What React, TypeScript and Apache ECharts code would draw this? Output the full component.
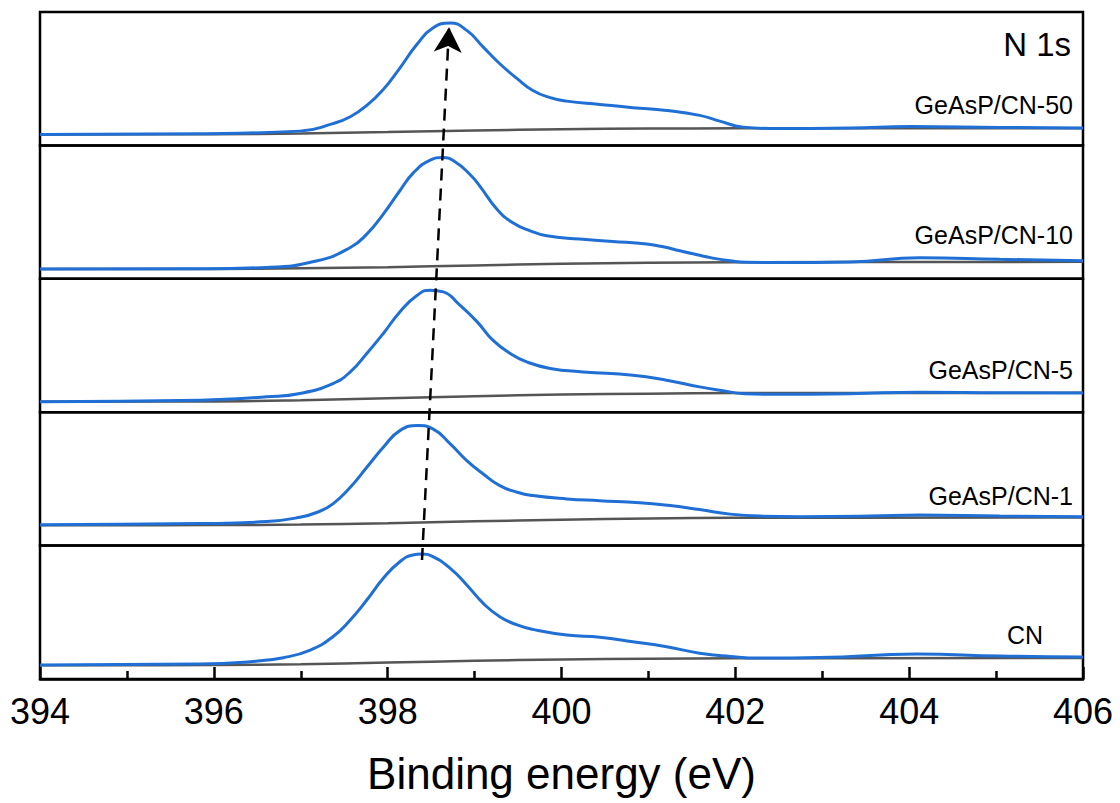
import React, { useEffect, useRef } from 'react';
import * as echarts from 'echarts';

// Binding-energy axis
const xMin = 394;
const xMax = 406;
const xStep = 2;

// Sample names, top panel first
const sampleNames = ['GeAsP/CN-50', 'GeAsP/CN-10', 'GeAsP/CN-5', 'GeAsP/CN-1', 'CN'];

// N 1s spectra (normalised intensity, a.u.)
const energy50 = [394.0, 395.84, 396.99, 397.37, 397.57, 397.76, 397.95, 398.14, 398.34, 398.52, 398.72, 398.91, 399.1, 399.29, 399.49, 399.67, 399.87, 400.06, 400.44, 400.82, 401.21, 401.59, 401.82, 402.09, 402.4, 403.32, 404.02, 405.04, 406.0];
const counts50 = [8.2, 8.8, 10.7, 16.3, 21.5, 30, 42, 58, 76, 88, 91.7, 86.2, 73.7, 61.2, 50, 41.2, 35.8, 33.2, 30.7, 28.3, 26.2, 22.5, 18.2, 13.7, 12.7, 13.1, 14.2, 13.5, 13.1];

const energy10 = [394.0, 395.84, 396.61, 397.19, 397.57, 397.76, 397.95, 398.14, 398.29, 398.49, 398.63, 398.77, 398.95, 399.06, 399.26, 399.44, 399.64, 399.83, 400.21, 400.59, 400.98, 401.17, 401.36, 401.56, 401.74, 401.94, 402.13, 402.51, 403.32, 404.12, 405.04, 406.0];
const counts10 = [7.3, 7.5, 8.5, 13.5, 23.5, 33.5, 48.5, 66, 79, 89, 90.9, 88, 78, 69.5, 52, 42, 36, 32.2, 29.8, 28, 26, 24, 21, 18, 15.5, 13.5, 12.4, 12.2, 12.6, 15.7, 14.6, 13.5];

const energy5 = [394.0, 395.84, 396.61, 396.99, 397.37, 397.57, 397.76, 397.95, 398.14, 398.34, 398.49, 398.64, 398.83, 399.03, 399.21, 399.41, 399.6, 399.87, 400.25, 400.82, 401.21, 401.59, 401.82, 402.11, 402.4, 403.32, 404.12, 405.04, 406.0];
const counts5 = [7.9, 9, 11.5, 14, 21.5, 30.2, 44, 59, 75.2, 87.7, 91.5, 90.2, 80.2, 67.7, 54, 44, 37.7, 32.8, 30.2, 27.7, 24, 19, 16.5, 13.9, 13.5, 13.9, 15, 14.6, 14.4];

const energy1 = [394.0, 395.84, 396.61, 396.99, 397.19, 397.37, 397.57, 397.76, 397.95, 398.14, 398.35, 398.52, 398.72, 398.91, 399.1, 399.29, 399.49, 399.67, 400.06, 400.44, 400.9, 401.25, 401.59, 401.94, 402.28, 402.74, 403.55, 404.12, 405.04, 406.0];
const counts1 = [15.7, 16.5, 18, 21.2, 25, 31.3, 43.7, 58.7, 73.7, 86.2, 90, 87.5, 76.2, 63.7, 53.7, 45, 40, 37.5, 35, 33.7, 32.2, 30, 27, 23.6, 22.1, 21.7, 22.1, 22.9, 22.1, 21.7];

const energyCN = [394.0, 395.84, 396.42, 396.8, 397.11, 397.37, 397.57, 397.76, 397.95, 398.14, 398.29, 398.39, 398.52, 398.72, 398.91, 399.1, 399.29, 399.49, 399.67, 400.06, 400.44, 400.82, 401.21, 401.59, 401.94, 402.28, 402.97, 404.09, 405.04, 406.0];
const countsCN = [10.5, 11.2, 13, 16, 21.7, 31.7, 44.2, 59.2, 75.5, 87.9, 93, 93.7, 91.7, 83, 70.5, 56.7, 46.7, 40.5, 37.2, 33, 31.3, 28, 24.2, 19.3, 16.9, 15.7, 16.1, 18.7, 17.2, 16.5];

// Shirley backgrounds
const bgEnergy = [394, 396, 397, 398, 399, 400, 401, 402, 406];
const bg50 = [8.2, 8.4, 9.0, 10.0, 11.2, 12.1, 12.6, 12.8, 12.8];
const bg10 = [7.3, 7.4, 7.9, 8.7, 10.0, 11.2, 12.0, 12.4, 12.7];
const bg5 = [7.9, 8.1, 9.0, 10.5, 12.0, 13.2, 13.9, 14.3, 14.5];
const bg1 = [15.3, 15.4, 15.8, 16.8, 18.2, 19.4, 20.3, 20.8, 21.0];
const bgCN = [10.3, 10.5, 11.0, 12.3, 13.6, 14.6, 15.2, 15.5, 15.7];

// Peak-shift guide: from the CN maximum up to the top panel's maximum
const shiftStart = [398.395, 89.2];
const shiftEnd = [398.706, 88.5];

const Y_MAX = 100;

const spectra = [
  { e: energy50, c: counts50, bg: bg50 },
  { e: energy10, c: counts10, bg: bg10 },
  { e: energy5, c: counts5, bg: bg5 },
  { e: energy1, c: counts1, bg: bg1 },
  { e: energyCN, c: countsCN, bg: bgCN },
];

const W = 1120;
const H = 803;
const TOP = 12;
const LEFT = 40;
const RIGHT = 37;
const PANEL_H = 133.4;
const FONT = '"Liberation Sans", Arial, sans-serif';
const BLUE = '#1f6fd5';
const GREY = '#555555';

const zip = (xs: number[], ys: number[]) => xs.map((x, k) => [x, ys[k]]);

// label placement inside each panel: [right edge x, offset above panel bottom]
const labelPos: [number, number][] = [
  [1073, 40],
  [1073, 44],
  [1073, 42],
  [1073, 50],
  [1043, 44],
];

export default function App() {
  const ref = useRef<HTMLDivElement>(null);

  useEffect(() => {
    if (!ref.current) return;
    const chart = echarts.init(ref.current, null, { renderer: 'svg' });
    const n = spectra.length;
    const last = n - 1;

    const grid = spectra.map((_, k) => ({
      left: LEFT,
      right: RIGHT,
      top: TOP + k * PANEL_H,
      height: PANEL_H,
      show: true,
      borderColor: '#000',
      borderWidth: 2.5,
      backgroundColor: 'transparent',
      outerBoundsMode: 'none',
    }));

    const xAxis = spectra.map((_, k) => {
      const bottom = k === last;
      return {
        type: 'value',
        gridIndex: k,
        min: xMin,
        max: xMax,
        interval: xStep,
        show: bottom,
        axisLine: { show: bottom, onZero: false, lineStyle: { color: '#000', width: 2.5 } },
        axisTick: { show: bottom, inside: true, length: 12, lineStyle: { color: '#000', width: 2.5 } },
        minorTick: { show: bottom, splitNumber: 2, length: 8, lineStyle: { color: '#000', width: 2.5 } },
        axisLabel: { show: bottom, fontSize: 36, color: '#000', margin: 14, fontFamily: FONT },
        splitLine: { show: false },
        name: bottom ? 'Binding energy (eV)' : '',
        nameLocation: 'middle',
        nameGap: 72,
        nameTextStyle: { fontSize: 44, color: '#000', fontFamily: FONT },
      };
    });

    const yAxis = spectra.map((_, k) => ({
      type: 'value',
      gridIndex: k,
      min: 0,
      max: Y_MAX,
      show: false,
    }));

    const series: any[] = [];
    spectra.forEach((s, k) => {
      series.push({
        type: 'line',
        xAxisIndex: k,
        yAxisIndex: k,
        data: zip(bgEnergy, s.bg),
        symbol: 'none',
        smooth: 0.4,
        silent: true,
        lineStyle: { color: GREY, width: 2.5 },
        z: 2,
      });
      series.push({
        type: 'line',
        name: sampleNames[k],
        xAxisIndex: k,
        yAxisIndex: k,
        data: zip(s.e, s.c),
        symbol: 'none',
        smooth: 0.5,
        silent: true,
        lineStyle: { color: BLUE, width: 3 },
        z: 3,
      });
    });

    // dashed arrow tracking the main N 1s peak across all panels
    series.push({
      type: 'lines',
      coordinateSystem: 'cartesian2d',
      xAxisIndex: last,
      yAxisIndex: last,
      clip: false,
      silent: true,
      symbol: ['none', 'arrow'],
      symbolSize: [0, [21, 25]],
      lineStyle: { color: '#000', width: 2.5, type: [12, 8], opacity: 1, curveness: 0 },
      data: [{ coords: [shiftStart, [shiftEnd[0], shiftEnd[1] + last * Y_MAX]] }],
      z: 5,
    });

    const graphic: any[] = sampleNames.map((name, k) => ({
      type: 'text',
      x: labelPos[k][0],
      y: TOP + (k + 1) * PANEL_H - labelPos[k][1],
      silent: true,
      style: {
        text: name,
        fill: '#000',
        font: `25px ${FONT}`,
        align: 'right',
        verticalAlign: 'middle',
      },
    }));
    graphic.push({
      type: 'text',
      x: 1071,
      y: 44,
      silent: true,
      style: {
        text: 'N 1s',
        fill: '#000',
        font: `33px ${FONT}`,
        align: 'right',
        verticalAlign: 'middle',
      },
    });

    chart.setOption({
      animation: false,
      backgroundColor: '#fff',
      textStyle: { fontFamily: FONT },
      grid,
      xAxis,
      yAxis,
      series,
      graphic,
    });

    return () => chart.dispose();
  }, []);

  return (
    <div
      ref={ref}
      style={{ position: 'fixed', left: 0, top: 0, width: W, height: H, background: '#fff' }}
    />
  );
}
